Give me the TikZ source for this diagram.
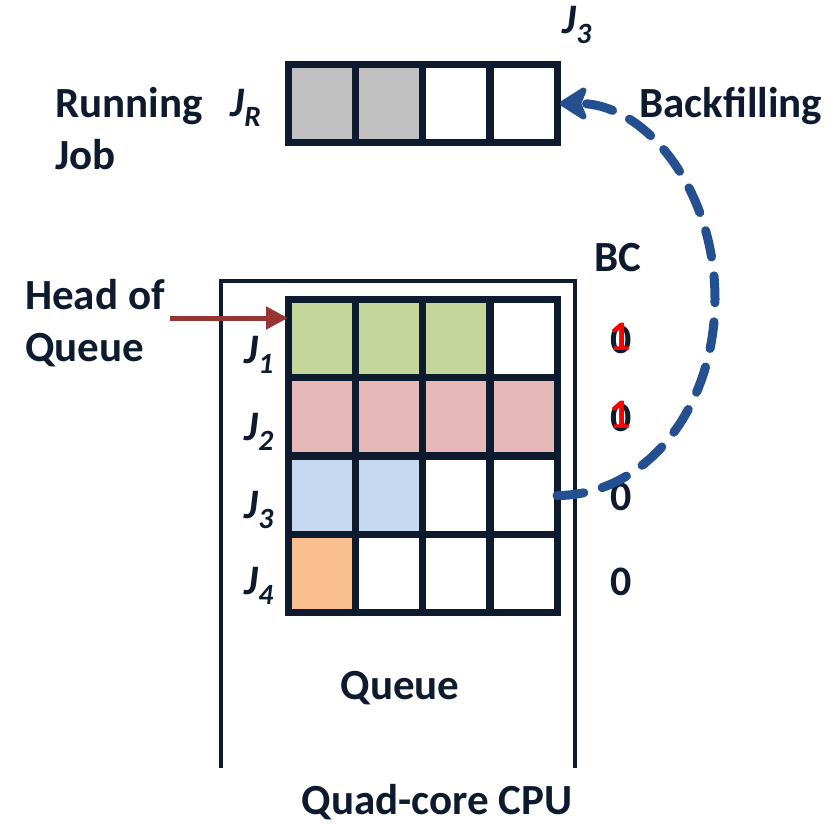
\documentclass[tikz,border=0pt]{standalone}
\usepackage{fontspec}
\setmainfont{Carlito}
\usetikzlibrary{arrows.meta}
\definecolor{ink}{RGB}{14,26,46}
\definecolor{cgray}{RGB}{192,192,192}
\definecolor{cgreen}{RGB}{196,215,155}
\definecolor{cpink}{RGB}{230,185,184}
\definecolor{cblue}{RGB}{198,217,241}
\definecolor{corange}{RGB}{250,192,144}
\definecolor{bfblue}{RGB}{36,79,145}
\definecolor{hoqred}{RGB}{150,54,52}
\definecolor{bcred}{RGB}{255,0,0}
\tikzset{
  cell/.style={draw=ink, line width=7pt, minimum width=67pt, minimum height=78pt,
               inner sep=0pt, outer sep=0pt},
  lbl/.style={text=ink, font=\fontsize{43}{52}\selectfont\bfseries, inner sep=0pt},
  jlbl/.style={text=ink, font=\fontsize{42}{52}\selectfont\bfseries\itshape, inner sep=0pt},
  bcnum/.style={text=ink, font=\fontsize{42}{52}\selectfont\bfseries, inner sep=0pt},
  bcflag/.style={text=bcred, font=\fontsize{42}{52}\selectfont\bfseries, inner sep=0pt},
  frame/.style={draw=ink, line width=4pt},
  backfill/.style={draw=bfblue, line width=9pt, line cap=round,
                   dash pattern=on 27pt off 19pt,
                   -{Stealth[length=32pt, width=40pt, inset=8pt, round]}},
  hoq/.style={draw=hoqred, line width=5pt, -{Triangle[length=22pt, width=22pt]}}
}
\begin{document}
\begin{tikzpicture}[x=1pt, y=-1pt]
\useasboundingbox (0,0) rectangle (838,823);

% running job (one core-slot per cell)
\node[cell, fill=cgray] (r1) at (321.5,103.5) {};
\node[cell, fill=cgray] (r2) at (388.5,103.5) {};
\node[cell, fill=white] (r3) at (456,103.5) {};
\node[cell, fill=white] (r4) at (523.5,103.5) {};

% CPU frame, open at the bottom
\draw[frame] (221,768) -- (221,281) -- (575,281) -- (575,768);

% queue of jobs
\node[cell, fill=cgreen] (q11) at (321.5,338) {};
\node[cell, fill=cgreen] (q12) at (388.5,338) {};
\node[cell, fill=cgreen] (q13) at (456,338) {};
\node[cell, fill=white]  (q14) at (523.5,338) {};

\node[cell, fill=cpink] (q21) at (321.5,416.5) {};
\node[cell, fill=cpink] (q22) at (388.5,416.5) {};
\node[cell, fill=cpink] (q23) at (456,416.5) {};
\node[cell, fill=cpink] (q24) at (523.5,416.5) {};

\node[cell, fill=cblue] (q31) at (321.5,495.5) {};
\node[cell, fill=cblue] (q32) at (388.5,495.5) {};
\node[cell, fill=white] (q33) at (456,495.5) {};
\node[cell, fill=white] (q34) at (523.5,495.5) {};

\node[cell, fill=corange] (q41) at (321.5,573) {};
\node[cell, fill=white]   (q42) at (388.5,573) {};
\node[cell, fill=white]   (q43) at (456,573) {};
\node[cell, fill=white]   (q44) at (523.5,573) {};

% labels
\node[lbl, align=left, anchor=west] (run) at (55,129) {Running\\Job};
\node[jlbl] (jr) at (246,108) {J\textsubscript{R}};
\node[jlbl] (jtop) at (577,25) {J\textsubscript{3}};
\node[lbl, anchor=west] (bf) at (639,106) {Backfilling};
\node[lbl] (bc) at (618,258) {BC};
\node[lbl, align=left, anchor=west] (head) at (25,323) {Head of\\Queue};

\node[jlbl] (j1) at (259,355) {J\textsubscript{1}};
\node[jlbl] (j2) at (259,432) {J\textsubscript{2}};
\node[jlbl] (j3) at (259,510) {J\textsubscript{3}};
\node[jlbl] (j4) at (259,586) {J\textsubscript{4}};

% backfill counters
\node[bcnum] (bc1) at (621,340) {0};
\node[bcflag] at (620,337) {1};
\node[bcnum] (bc2) at (621,418) {0};
\node[bcflag] at (620,415) {1};
\node[bcnum] (bc3) at (621,497) {0};
\node[bcnum] (bc4) at (621,582) {0};

\node[lbl] (queue) at (400,688) {Queue};
\node[lbl] (cpu) at (437,802) {Quad-core CPU};

% connectors
\coordinate (hoqstart) at (170,318);
\draw[hoq] (hoqstart) -- (q11.west |- hoqstart);

\coordinate (bfmid) at (715,299);
\draw[backfill] (q34.east) .. controls (646,495.5) and (715,408) .. (bfmid)
  .. controls (715,190) and (646,103.5) .. ([xshift=3pt]r4.east);
\end{tikzpicture}
\end{document}
